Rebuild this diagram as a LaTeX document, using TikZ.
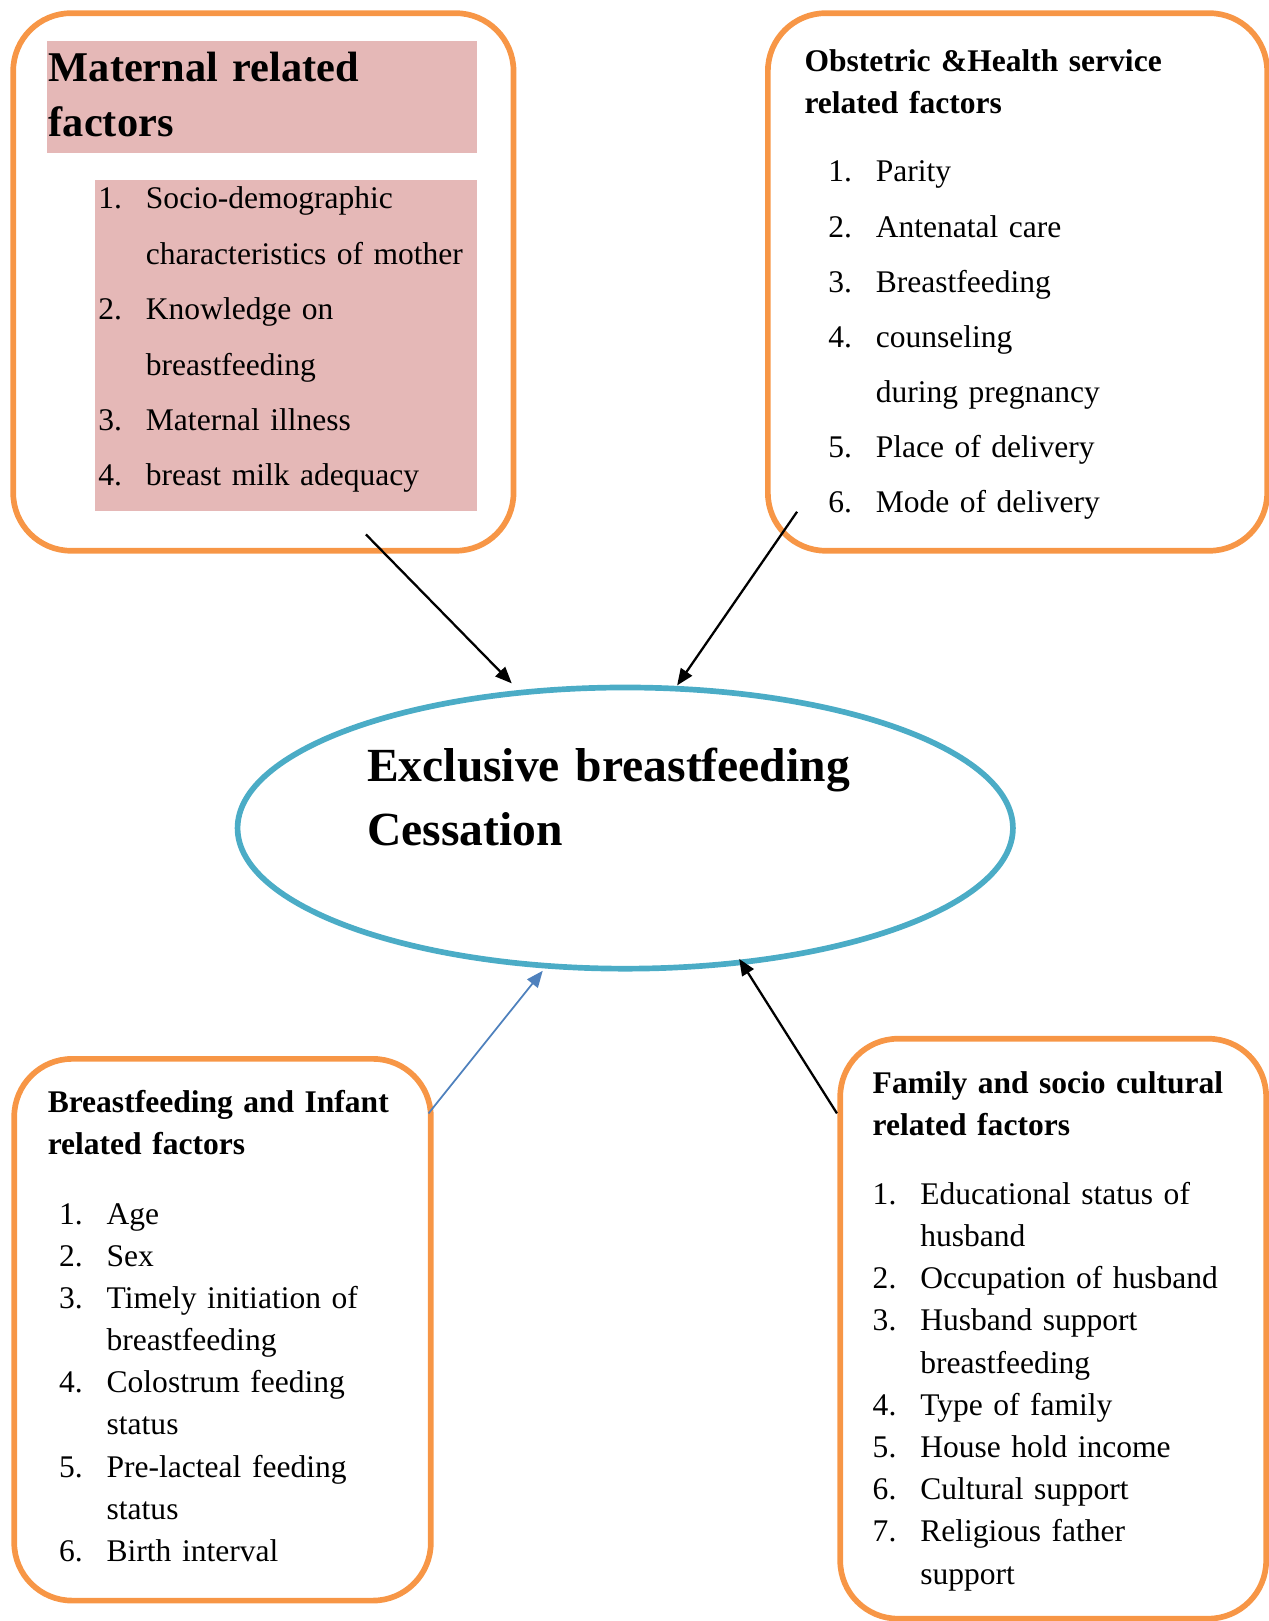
\documentclass[tikz,border=0pt]{standalone}
\usepackage{fontspec}
\setmainfont{Liberation Serif}
\usetikzlibrary{shapes.geometric,arrows.meta}
\definecolor{boxorange}{HTML}{F79646}
\definecolor{ellblue}{HTML}{4BACC6}
\definecolor{arrblue}{HTML}{4F81BD}
\definecolor{pinkfill}{HTML}{E5B8B7}
\newcommand\lnum[1]{\makebox[46pt][l]{#1}}
\newcommand\contind{\hspace*{46pt}}
\begin{document}
\begin{tikzpicture}[x=1pt,y=-1pt,
  factorbox/.style={draw=boxorange, line width=5.5pt, rounded corners=56pt, anchor=north west, inner sep=0pt},
  headtext/.style={anchor=base west, inner sep=0pt, text width=430pt, align=left, font=\fontsize{30.5}{40.5}\selectfont\bfseries},
  listtext/.style={anchor=base west, inner sep=0pt, text width=430pt, align=left},
  arr/.style={line width=2.2pt, -{Triangle[length=16pt,width=13pt]}},
]
\useasboundingbox (0,0) rectangle (1227,1568);

% pink highlights in the maternal box
\fill[pinkfill] (45,40) rectangle (461,148);
\fill[pinkfill] (92,174) rectangle (461,494);

% factor boxes
\node[factorbox, minimum width=484pt, minimum height=520pt] (mat) at (10,10) {};
\node[factorbox, minimum width=483pt, minimum height=520pt] (obs) at (740,10) {};
\node[factorbox, minimum width=403pt, minimum height=524pt] (inf) at (11,1021.5) {};
\node[factorbox, minimum width=412pt, minimum height=561pt] (fam) at (810,1002) {};

% maternal box text
\node[anchor=base west, inner sep=0pt, text width=430pt, align=left,
      font=\fontsize{41}{53.5}\selectfont\bfseries] (math) at (47,79) {Maternal related\\factors};
\node[listtext, font=\fontsize{30.5}{53.6}\selectfont] (matl) at (95,202)
  {\lnum{1.}Socio-demographic\\\contind characteristics of mother\\\lnum{2.}Knowledge on\\\contind breastfeeding\\\lnum{3.}Maternal illness\\\lnum{4.}breast milk adequacy};

% obstetric box text
\node[headtext] (obsh) at (778,69) {Obstetric \&Health service\\related factors};
\node[listtext, font=\fontsize{30.5}{53.3}\selectfont] (obsl) at (801,176)
  {\lnum{1.}Parity\\\lnum{2.}Antenatal care\\\lnum{3.}Breastfeeding\\\lnum{4.}counseling\\\contind during pregnancy\\\lnum{5.}Place of delivery\\\lnum{6.}Mode of delivery};

% infant box text
\node[headtext] (infh) at (46,1076) {Breastfeeding and Infant\\related factors};
\node[listtext, font=\fontsize{30.5}{40.8}\selectfont] (infl) at (57,1184)
  {\lnum{1.}Age\\\lnum{2.}Sex\\\lnum{3.}Timely initiation of\\\contind breastfeeding\\\lnum{4.}Colostrum feeding\\\contind status\\\lnum{5.}Pre-lacteal feeding\\\contind status\\\lnum{6.}Birth interval};

% family box text
\node[headtext] (famh) at (844,1058) {Family and socio cultural\\related factors};
\node[listtext, font=\fontsize{30.5}{40.8}\selectfont] (faml) at (844,1165)
  {\lnum{1.}Educational status of\\\contind husband\\\lnum{2.}Occupation of husband\\\lnum{3.}Husband support\\\contind breastfeeding\\\lnum{4.}Type of family\\\lnum{5.}House hold income\\\lnum{6.}Cultural support\\\lnum{7.}Religious father\\\contind support};

% central ellipse
\node[ellipse, draw=ellblue, line width=5.5pt, minimum width=750pt, minimum height=272pt, inner sep=0pt] (ebf) at (604.8,801) {};
\node[anchor=base west, inner sep=0pt, text width=520pt, align=left,
      font=\fontsize{46}{61.3}\selectfont\bfseries] (ebft) at (355,756.4) {Exclusive breastfeeding\\Cessation};

% connector end points
\coordinate (s1) at (354,517);
\coordinate (e1) at (495,661);
\coordinate (s2) at (771,495);
\coordinate (e2) at (655,663);
\coordinate (s3) at (414.5,1077);
\coordinate (e3) at (525,939);
\coordinate (s4) at (809.6,1077);
\coordinate (e4) at (715,927.5);

\draw[arr] (s1) -- (e1);
\draw[arr] (s2) -- (e2);
\draw[arr, draw=arrblue, fill=arrblue, line width=1.7pt] (s3) -- (e3);
\draw[arr] (s4) -- (e4);
\end{tikzpicture}
\end{document}
